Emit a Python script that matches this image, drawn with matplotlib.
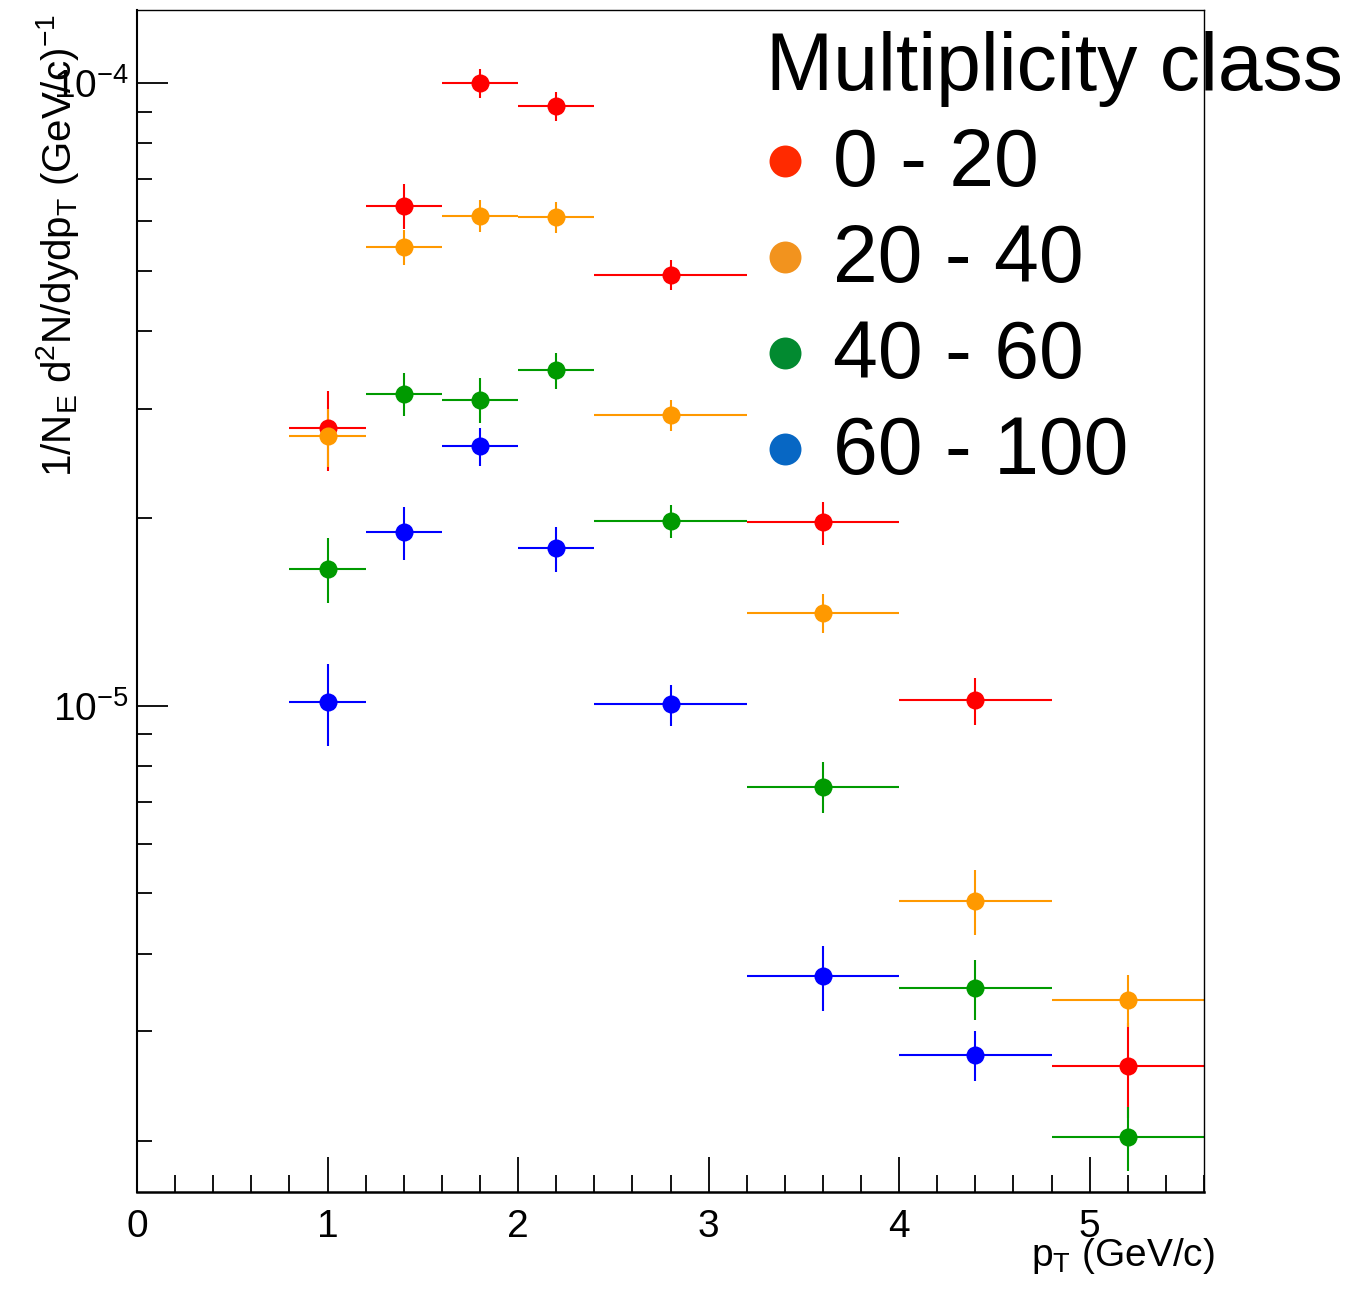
"""Identified-particle pT spectra per multiplicity class (log scale), ROOT-style."""
import matplotlib
matplotlib.use("Agg")
import matplotlib.pyplot as plt
from matplotlib.lines import Line2D
from matplotlib.ticker import FixedLocator, LogLocator, NullFormatter

plt.rcParams["font.family"] = ["Liberation Sans", "DejaVu Sans"]
plt.rcParams["mathtext.fontset"] = "custom"
plt.rcParams["mathtext.rm"] = "Liberation Sans"
plt.rcParams["mathtext.it"] = "Liberation Sans:italic"

# bin centres and half widths (GeV/c)
pt = [1.0, 1.4, 1.8, 2.2, 2.8, 3.6, 4.4, 5.2]
pt_halfwidth = [0.2, 0.2, 0.2, 0.2, 0.4, 0.4, 0.4, 0.4]

classes = ["0 - 20", "20 - 40", "40 - 60", "60 - 100"]

yield_0_20 = [2.79e-5, 6.35e-5, 1.00e-4, 9.18e-5, 4.92e-5, 1.97e-5, 1.02e-5, 2.64e-6]
err_0_20 = [4.1e-6, 5.3e-6, 5.5e-6, 5.0e-6, 2.7e-6, 1.57e-6, 8.7e-7, 4.6e-7]

yield_20_40 = [2.71e-5, 5.46e-5, 6.12e-5, 6.09e-5, 2.93e-5, 1.41e-5, 4.86e-6, 3.37e-6]
err_20_40 = [2.9e-6, 3.5e-6, 3.6e-6, 3.4e-6, 1.7e-6, 1.03e-6, 5.8e-7, 3.2e-7]

yield_40_60 = [1.66e-5, 3.17e-5, 3.10e-5, 3.46e-5, 1.98e-5, 7.42e-6, 3.52e-6, 2.03e-6]
err_40_60 = [2.0e-6, 2.5e-6, 2.6e-6, 2.3e-6, 1.2e-6, 7.0e-7, 3.9e-7, 2.4e-7]

# highest multiplicity class has no point in the last bin
yield_60_100 = [1.015e-5, 1.90e-5, 2.61e-5, 1.79e-5, 1.005e-5, 3.68e-6, 2.75e-6]
err_60_100 = [1.53e-6, 1.85e-6, 1.8e-6, 1.5e-6, 7.6e-7, 4.4e-7, 2.55e-7]

data_colors = ["#ff0000", "#ff9900", "#009a00", "#0000ff"]
legend_colors = ["#ff2a00", "#f2931e", "#028a30", "#0767c4"]

W, H = 1360, 1302
fig = plt.figure(figsize=(W / 100, H / 100), dpi=100)
ax = fig.add_axes([137 / W, 1 - 1192 / H, (1204 - 137) / W, (1192 - 10) / H])

series = [
    (yield_0_20, err_0_20),
    (yield_20_40, err_20_40),
    (yield_40_60, err_40_60),
    (yield_60_100, err_60_100),
]
for (y, yerr), col in zip(series, data_colors):
    n = len(y)
    ax.errorbar(pt[:n], y, xerr=pt_halfwidth[:n], yerr=yerr, fmt="o", color=col,
                ms=13, mew=0, elinewidth=1.5, capsize=0)

ax.set_yscale("log")
ax.set_xlim(0, 5.6)
ax.set_ylim(1.31e-4 / 10 ** 1.898, 1.31e-4)

ax.set_xticks([0, 1, 2, 3, 4, 5])
ax.set_xticklabels(["0", "1", "2", "3", "4", "5"])
ax.xaxis.set_minor_locator(FixedLocator([i * 0.2 for i in range(29)]))
ax.yaxis.set_major_locator(FixedLocator([1e-5, 1e-4]))
ax.set_yticklabels([r"$10^{-5}$", r"$10^{-4}$"])
ax.yaxis.set_minor_locator(LogLocator(subs=range(2, 10)))
ax.yaxis.set_minor_formatter(NullFormatter())

ax.tick_params(axis="x", which="major", direction="in", length=25, width=1.3,
               labelsize=28, pad=12, top=False)
ax.tick_params(axis="x", which="minor", direction="in", length=12, width=1.3, top=False)
ax.tick_params(axis="y", which="major", direction="in", length=22, width=1.3,
               labelsize=28, pad=6, right=False)
ax.tick_params(axis="y", which="minor", direction="in", length=11, width=1.3, right=False)

ax.spines["left"].set_linewidth(1.5)
ax.spines["bottom"].set_linewidth(1.8)
ax.spines["top"].set_linewidth(1.0)
ax.spines["right"].set_linewidth(1.0)

fig.text(1215 / W, 1 - 1266 / H, r"p$_{\mathrm{T}}$ (GeV/c)", ha="right",
         va="baseline", fontsize=28)
fig.text(58 / W, 1 - 14 / H,
         r"1/N$_{\mathrm{E}}$ d$^{2}$N/dydp$_{\mathrm{T}}$ (GeV/c)$^{-1}$",
         rotation=90, ha="center", va="top", fontsize=29)

# legend overlay
leg_font = dict(family=["Liberation Sans", "DejaVu Sans"], fontsize=58)
fig.text(766 / W, 1 - 90 / H, "Multiplicity class", ha="left", va="baseline", **leg_font)
for i, (lab, col) in enumerate(zip(classes, legend_colors)):
    yb = 186 + 96 * i
    fig.text(833 / W, 1 - yb / H, lab, ha="left", va="baseline", **leg_font)
    fig.add_artist(Line2D([785 / W], [1 - (yb - 25) / H], marker="o", ms=23, mew=0,
                          color=col, transform=fig.transFigure))

fig.savefig("out.png", dpi=100)
